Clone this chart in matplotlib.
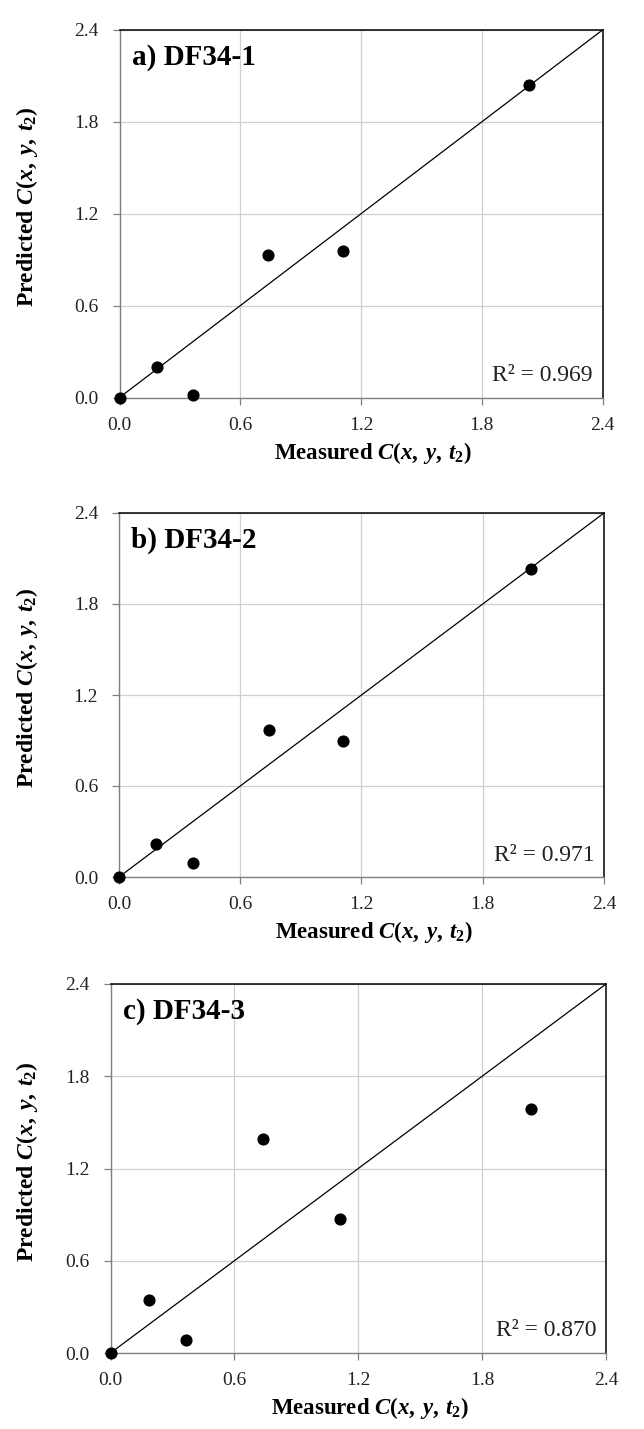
# Measured vs predicted concentrations, three DF34 runs
import numpy as np
import matplotlib
matplotlib.use('Agg')
import matplotlib.pyplot as plt

plt.rcParams['font.family'] = ['Liberation Serif', 'DejaVu Serif']
plt.rcParams['mathtext.fontset'] = 'custom'
plt.rcParams['mathtext.rm'] = 'Liberation Serif:bold'
plt.rcParams['mathtext.it'] = 'Liberation Serif:italic:bold'
plt.rcParams['mathtext.bf'] = 'Liberation Serif:bold'

# Datos
measured = [0.0, 0.185, 0.365, 0.74, 1.11, 2.037]
pred_a = [0.0, 0.20, 0.018, 0.933, 0.954, 2.04]
pred_b = [0.0, 0.215, 0.095, 0.971, 0.895, 2.033]
pred_c = [0.0, 0.342, 0.087, 1.393, 0.871, 1.588]
titulos = ['a) DF34-1', 'b) DF34-2', 'c) DF34-3']
r2_textos = ['R² = 0.969', 'R² = 0.971', 'R² = 0.870']
ticks = [0.0, 0.6, 1.2, 1.8, 2.4]
tick_labels = ['0.0', '0.6', '1.2', '1.8', '2.4']

W, H = 644, 1429
fig = plt.figure(figsize=(W / 100, H / 100), dpi=100)

# cajas de los ejes en pixeles: (izq, arriba, der, abajo)
cajas = [(119.5, 30, 602.5, 397.5),
         (119, 513, 604, 877),
         (110.5, 984, 606, 1353)]

predichos = [pred_a, pred_b, pred_c]

for caja, pred, titulo, r2 in zip(cajas, predichos, titulos, r2_textos):
    x0, y0, x1, y1 = caja
    ancho, alto = x1 - x0, y1 - y0
    ax = fig.add_axes([x0 / W, 1 - y1 / H, ancho / W, alto / H])
    ax.set_xlim(0, 2.4)
    ax.set_ylim(0, 2.4)
    ax.set_xticks(ticks)
    ax.set_yticks(ticks)
    ax.set_xticklabels(tick_labels)
    ax.set_yticklabels(tick_labels)
    ax.grid(True, color='#d0d0d0', linewidth=0.9)
    ax.set_axisbelow(True)

    # linea 1:1
    ax.plot([0, 2.4], [0, 2.4], color='black', linewidth=0.9, zorder=2)
    ax.scatter(measured, pred, s=60, color='black', zorder=3, clip_on=False)

    for lado in ['top', 'right']:
        ax.spines[lado].set_color('black')
        ax.spines[lado].set_linewidth(1.1)
    for lado in ['left', 'bottom']:
        ax.spines[lado].set_color('#808080')
        ax.spines[lado].set_linewidth(1.0)

    ax.tick_params(axis='both', direction='out', length=5, width=0.9,
                   color='#808080', labelsize=14, labelcolor='#222222')
    ax.tick_params(axis='x', pad=9)
    ax.tick_params(axis='y', pad=10)

    ax.text(0.025, 0.905, titulo, transform=ax.transAxes, fontsize=21,
            fontweight='bold', ha='left', va='baseline')
    ax.text(0.98, 0.045, r2, transform=ax.transAxes, fontsize=17,
            ha='right', va='baseline', color='#222222')

    ax.set_xlabel(r'Measured $C(x,\:y,\:t_2)$', fontsize=16.5,
                  fontweight='bold')
    ax.set_ylabel(r'Predicted $C(x,\:y,\:t_2)$', fontsize=17,
                  fontweight='bold')
    ax.xaxis.set_label_coords(0.5 + 12 / ancho, -42 / alto)
    ax.yaxis.set_label_coords(-(x0 - 40) / ancho, 0.5 + 7 / alto)

plt.savefig('out.png', dpi=100)
